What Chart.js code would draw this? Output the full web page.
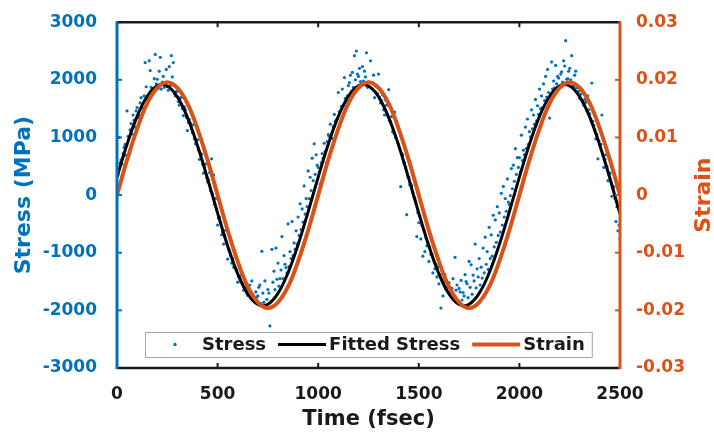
<!DOCTYPE html>
<html>
<head>
<meta charset="utf-8">
<title>Stress / Strain vs Time</title>
<script src="https://cdn.jsdelivr.net/npm/chart.js@4.4.1/dist/chart.umd.min.js"></script>
<style>
  html, body { margin: 0; padding: 0; background: #fff; }
  #wrap { width: 714px; height: 435px; }
</style>
</head>
<body>
<div id="wrap"><canvas id="stressChart" width="714" height="435"></canvas></div>
<script>
// Ejes
const timeTicks = [0, 500, 1000, 1500, 2000, 2500];
const stressTicks = [-3000, -2000, -1000, 0, 1000, 2000, 3000];
const strainTicks = [-0.03, -0.02, -0.01, 0, 0.01, 0.02, 0.03];

// Curvas ajustadas (cada 50 fsec)
const timeFit = [
  0, 50, 100, 150, 200, 250, 300, 350, 400, 450,
  500, 550, 600, 650, 700, 750, 800, 850, 900, 950,
  1000, 1050, 1100, 1150, 1200, 1250, 1300, 1350, 1400, 1450,
  1500, 1550, 1600, 1650, 1700, 1750, 1800, 1850, 1900, 1950,
  2000, 2050, 2100, 2150, 2200, 2250, 2300, 2350, 2400, 2450,
  2500
];
const fittedStress = [
  312, 882, 1366, 1716, 1898, 1894, 1705, 1349, 861, 288,
  -312, -882, -1366, -1716, -1898, -1894, -1705, -1349, -861, -288,
  312, 882, 1366, 1716, 1898, 1894, 1705, 1349, 861, 288,
  -312, -882, -1366, -1716, -1898, -1894, -1705, -1349, -861, -288,
  312, 882, 1366, 1716, 1898, 1894, 1705, 1349, 861, 288,
  -330
];
const strain = [
  0, 0.0061, 0.0115, 0.0159, 0.0186, 0.0196, 0.0186, 0.0159, 0.0115, 0.0061,
  0, -0.0061, -0.0115, -0.0159, -0.0186, -0.0196, -0.0186, -0.0159, -0.0115, -0.0061,
  0, 0.0061, 0.0115, 0.0159, 0.0186, 0.0196, 0.0186, 0.0159, 0.0115, 0.0061,
  0, -0.0061, -0.0115, -0.0159, -0.0186, -0.0196, -0.0186, -0.0159, -0.0115, -0.0061,
  0, 0.0061, 0.0115, 0.0159, 0.0186, 0.0196, 0.0186, 0.0159, 0.0115, 0.0061,
  0
];

// Tensión medida, muestras en 0, 10, 20 ... fsec
const timeStress = [
  0, 10, 20, 30, 40, 50, 60, 70, 80, 90,
  100, 110, 120, 130, 140, 150, 160, 170, 180, 190,
  200, 210, 220, 230, 240, 250, 260, 270, 280, 290,
  300, 310, 320, 330, 340, 350, 360, 370, 380, 390,
  400, 410, 420, 430, 440, 450, 460, 470, 480, 490,
  500, 510, 520, 530, 540, 550, 560, 570, 580, 590,
  600, 610, 620, 630, 640, 650, 660, 670, 680, 690,
  700, 710, 720, 730, 740, 750, 760, 770, 780, 790,
  800, 810, 820, 830, 840, 850, 860, 870, 880, 890,
  900, 910, 920, 930, 940, 950, 960, 970, 980, 990,
  1000, 1010, 1020, 1030, 1040, 1050, 1060, 1070, 1080, 1090,
  1100, 1110, 1120, 1130, 1140, 1150, 1160, 1170, 1180, 1190,
  1200, 1210, 1220, 1230, 1240, 1250, 1260, 1270, 1280, 1290,
  1300, 1310, 1320, 1330, 1340, 1350, 1360, 1370, 1380, 1390,
  1400, 1410, 1420, 1430, 1440, 1450, 1460, 1470, 1480, 1490,
  1500, 1510, 1520, 1530, 1540, 1550, 1560, 1570, 1580, 1590,
  1600, 1610, 1620, 1630, 1640, 1650, 1660, 1670, 1680, 1690,
  1700, 1710, 1720, 1730, 1740, 1750, 1760, 1770, 1780, 1790,
  1800, 1810, 1820, 1830, 1840, 1850, 1860, 1870, 1880, 1890,
  1900, 1910, 1920, 1930, 1940, 1950, 1960, 1970, 1980, 1990,
  2000, 2010, 2020, 2030, 2040, 2050, 2060, 2070, 2080, 2090,
  2100, 2110, 2120, 2130, 2140, 2150, 2160, 2170, 2180, 2190,
  2200, 2210, 2220, 2230, 2240, 2250, 2260, 2270, 2280, 2290,
  2300, 2310, 2320, 2330, 2340, 2350, 2360, 2370, 2380, 2390,
  2400, 2410, 2420, 2430, 2440, 2450, 2460, 2470, 2480, 2490,
  2500
];
const stress = [
  420, 1000, 610, 720, 880, 1460, 700, 1240, 1390, 1180,
  1520, 1380, 1690, 1480, 2300, 1650, 2330, 1870, 1780, 2440,
  2010, 2150, 1840, 2060, 1930, 1880, 2230, 2420, 2300, 1720,
  1800, 1560, 1690, 1380, 1480, 1120, 1310, 1150, 1220, 890,
  960, 620, 710, 380, 540, 230, 390, 630, 350, -60,
  -520, -380, -690, -850, -610, -1110, -980, -1180, -1250, -1060,
  -1510, -1420, -1380, -1650, -1600, -1740, -1560, -1490, -1820, -1680,
  -1750, -1560, -975, -1860, -1920, -1640, -2270, -940, -1320, -920,
  -1180, -1450, -720, -1050, -1260, -500, -980, -460, -830, -620,
  -380, -150, -240, 160, -60, 420, 310, 640, 890, 700,
  480, 190, 720, 900, 560, 1050, 1230, 980, 1400, 1300,
  1780, 1250, 1840, 2040, 1620, 1900, 2080, 2130, 2420, 2500,
  2060, 1970, 2230, 2150, 2470, 1880, 2330, 1950, 1690, 1880,
  2100, 1600, 1740, 1390, 1560, 1830, 1270, 1100, 1440, 1270,
  880, 146, 700, 560, -340, 310, 190, 40, -60, -720,
  -480, -760, -1060, -980, -880, -1150, -1030, -1350, -1280, -1420,
  -1540, -1960, -1750, -1380, -1600, -1520, -1700, -1450, -1080, -1560,
  -1620, -1480, -1690, -1380, -1540, -1150, -1210, -1390, -850, -1280,
  -1100, -1250, -920, -730, -980, -560, -690, -350, -430, -200,
  -310, 30, 150, -60, 280, -160, 460, 520, 806, 650,
  650, 1040, 780, 1180, 1320, 1100, 1480, 1390, 1660, 1550,
  1840, 1720, 1930, 2060, 2180, 1336, 2310, 1980, 2250, 2060,
  1870, 2140, 2330, 2680, 2020, 2200, 2420, 1880, 2150, 1790,
  1680, 1840, 1560, 1610, 1720, 1410, 1945, 1210, 975, 630,
  1150, 1390, 480, 700, 250, 380, -20, 140, -460, -620,
  -750
];

// Tensión medida, muestras intermedias en 5, 15, 25 ... fsec
const timeStressMid = [
  5, 15, 25, 35, 45, 55, 65, 75, 85, 95,
  105, 115, 125, 135, 145, 155, 165, 175, 185, 195,
  205, 215, 225, 235, 245, 255, 265, 275, 285, 295,
  305, 315, 325, 335, 345, 355, 365, 375, 385, 395,
  405, 415, 425, 435, 445, 455, 465, 475, 485, 495,
  505, 515, 525, 535, 545, 555, 565, 575, 585, 595,
  605, 615, 625, 635, 645, 655, 665, 675, 685, 695,
  705, 715, 725, 735, 745, 755, 765, 775, 785, 795,
  805, 815, 825, 835, 845, 855, 865, 875, 885, 895,
  905, 915, 925, 935, 945, 955, 965, 975, 985, 995,
  1005, 1015, 1025, 1035, 1045, 1055, 1065, 1075, 1085, 1095,
  1105, 1115, 1125, 1135, 1145, 1155, 1165, 1175, 1185, 1195,
  1205, 1215, 1225, 1235, 1245, 1255, 1265, 1275, 1285, 1295,
  1305, 1315, 1325, 1335, 1345, 1355, 1365, 1375, 1385, 1395,
  1405, 1415, 1425, 1435, 1445, 1455, 1465, 1475, 1485, 1495,
  1505, 1515, 1525, 1535, 1545, 1555, 1565, 1575, 1585, 1595,
  1605, 1615, 1625, 1635, 1645, 1655, 1665, 1675, 1685, 1695,
  1705, 1715, 1725, 1735, 1745, 1755, 1765, 1775, 1785, 1795,
  1805, 1815, 1825, 1835, 1845, 1855, 1865, 1875, 1885, 1895,
  1905, 1915, 1925, 1935, 1945, 1955, 1965, 1975, 1985, 1995,
  2005, 2015, 2025, 2035, 2045, 2055, 2065, 2075, 2085, 2095,
  2105, 2115, 2125, 2135, 2145, 2155, 2165, 2175, 2185, 2195,
  2205, 2215, 2225, 2235, 2245, 2255, 2265, 2275, 2285, 2295,
  2305, 2315, 2325, 2335, 2345, 2355, 2365, 2375, 2385, 2395,
  2405, 2415, 2425, 2435, 2445, 2455, 2465, 2475, 2485, 2495
];
const stressMid = [
  350, 560, 540, 830, 690, 1020, 1130, 1060, 1300, 1460,
  1350, 1600, 1520, 1720, 1880, 1690, 2160, 1800, 2020, 1930,
  1850, 2390, 1960, 1870, 2180, 1820, 1900, 2050, 1760, 1800,
  1620, 1690, 1500, 1530, 1350, 1260, 1250, 1080, 980, 960,
  780, 730, 540, 480, 300, 260, 80, 20, -160, -240,
  -400, -470, -640, -700, -820, -940, -1050, -1100, -1260, -1300,
  -1420, -1500, -1540, -1620, -1700, -1650, -1790, -1720, -1830, -1770,
  -1600, -1880, -1700, -1490, -1810, -1700, -1850, -1510, -1640, -1460,
  -1580, -1300, -1450, -1200, -1350, -1240, -1100, -1050, -940, -850,
  -700, -600, -470, -330, -200, -60, 80, 250, 360, 520,
  400, 560, 640, 760, 930, 1020, 1060, 1190, 1280, 1330,
  1450, 1540, 1560, 1680, 1720, 1950, 1800, 1870, 2000, 2100,
  2200, 1900, 1980, 2050, 1870, 1960, 1850, 2080, 1790, 1760,
  1700, 1640, 1480, 1650, 1380, 1290, 1360, 1080, 1000, 920,
  810, 720, 560, 480, 330, 180, 160, -30, -120, -300,
  -360, -520, -600, -740, -820, -900, -1030, -1140, -1200, -1250,
  -1380, -1460, -1510, -1640, -1560, -1700, -1620, -1780, -1650, -1840,
  -1680, -1820, -1750, -1500, -1780, -1600, -1720, -1490, -1610, -1420,
  -1560, -1440, -1350, -1200, -1290, -1100, -1060, -900, -820, -700,
  -640, -520, -380, -280, -120, -10, 110, 240, 360, 480,
  400, 600, 700, 810, 880, 1010, 1150, 1230, 1290, 1400,
  1500, 1520, 1640, 1700, 1780, 1720, 1840, 1860, 1930, 2030,
  2100, 1960, 2240, 2010, 2150, 2000, 1890, 2080, 1860, 1800,
  1750, 1620, 1660, 1470, 1480, 1320, 1280, 1130, 1050, 940,
  880, 700, 620, 500, 360, 230, 150, -60, -200, -520
];

const BLUE = '#0072BD';
const ORANGE = '#D95319';
const DARK = '#1a1a1a';
const FONT = '"DejaVu Sans", "Liberation Sans", sans-serif';

// Marco estilo MATLAB: ejes de colores y marcas hacia dentro
const axesFrame = {
  id: 'axesFrame',
  afterDatasetsDraw(chart) {
    const { ctx, chartArea: a, scales } = chart;
    const tick = 5;
    ctx.save();
    ctx.lineCap = 'butt';

    ctx.lineWidth = 2;
    ctx.strokeStyle = DARK;
    timeTicks.forEach(v => {
      if (v === 0 || v === 2500) return;
      const px = scales.x.getPixelForValue(v);
      ctx.beginPath();
      ctx.moveTo(px, a.bottom); ctx.lineTo(px, a.bottom - tick);
      ctx.moveTo(px, a.top); ctx.lineTo(px, a.top + tick);
      ctx.stroke();
    });
    ctx.strokeStyle = BLUE;
    stressTicks.forEach(v => {
      const py = scales.y.getPixelForValue(v);
      ctx.beginPath(); ctx.moveTo(a.left, py); ctx.lineTo(a.left + tick, py); ctx.stroke();
    });
    ctx.strokeStyle = ORANGE;
    strainTicks.forEach(v => {
      const py = scales.y1.getPixelForValue(v);
      ctx.beginPath(); ctx.moveTo(a.right, py); ctx.lineTo(a.right - tick, py); ctx.stroke();
    });

    ctx.lineWidth = 2.5;
    ctx.strokeStyle = DARK;
    ctx.beginPath();
    ctx.moveTo(a.left, a.top); ctx.lineTo(a.right, a.top);
    ctx.moveTo(a.left, a.bottom); ctx.lineTo(a.right, a.bottom);
    ctx.stroke();

    ctx.lineWidth = 3;
    ctx.strokeStyle = BLUE;
    ctx.beginPath(); ctx.moveTo(a.left, a.top - 1); ctx.lineTo(a.left, a.bottom + 1); ctx.stroke();
    ctx.strokeStyle = ORANGE;
    ctx.beginPath(); ctx.moveTo(a.right, a.top - 1); ctx.lineTo(a.right, a.bottom + 1); ctx.stroke();
    ctx.restore();
  }
};

// Leyenda en una fila dentro del área del gráfico
const innerLegend = {
  id: 'innerLegend',
  afterDraw(chart) {
    const ctx = chart.ctx;
    const sets = chart.data.datasets;
    const boxLeft = 145, boxTop = 332, boxH = 25;
    const midY = boxTop + boxH / 2;
    ctx.save();
    ctx.font = 'bold 18px ' + FONT;
    ctx.textBaseline = 'middle';

    let x = boxLeft;
    const items = sets.map((ds, i) => {
      const mStart = x + (i === 0 ? 6 : 12);
      const mEnd = mStart + 48;
      const tx = mEnd + 3;
      x = tx + ctx.measureText(ds.label).width;
      return { ds, mStart, mEnd, tx };
    });
    const boxRight = x + 7;

    ctx.fillStyle = '#fff';
    ctx.fillRect(boxLeft, boxTop, boxRight - boxLeft, boxH);
    ctx.strokeStyle = '#a6a6a6';
    ctx.lineWidth = 1;
    ctx.strokeRect(boxLeft + 0.5, boxTop + 0.5, boxRight - boxLeft, boxH);

    items.forEach(it => {
      if (it.ds.showLine === false) {
        ctx.fillStyle = it.ds.backgroundColor;
        ctx.beginPath();
        ctx.arc((it.mStart + it.mEnd) / 2, midY, 1.7, 0, Math.PI * 2);
        ctx.fill();
      } else {
        ctx.strokeStyle = it.ds.borderColor;
        ctx.lineWidth = it.ds.borderWidth;
        ctx.beginPath(); ctx.moveTo(it.mStart, midY); ctx.lineTo(it.mEnd, midY); ctx.stroke();
      }
      ctx.fillStyle = DARK;
      ctx.fillText(it.ds.label, it.tx, midY + 1);
    });

    // Título del eje derecho (de abajo hacia arriba, como el izquierdo)
    const a = chart.chartArea;
    ctx.translate(704, (a.top + a.bottom) / 2);
    ctx.rotate(-Math.PI / 2);
    ctx.textAlign = 'center';
    ctx.font = 'bold 22px ' + FONT;
    ctx.fillStyle = ORANGE;
    ctx.fillText('Strain', 0, 0);
    ctx.restore();
  }
};

const stressPoints = timeStress.map((t, i) => ({ x: t, y: stress[i] }))
  .concat(timeStressMid.map((t, i) => ({ x: t, y: stressMid[i] })))
  .sort((p, q) => p.x - q.x);

const ctx = document.getElementById('stressChart').getContext('2d');
const stressChart = new Chart(ctx, {
  type: 'line',
  data: {
    datasets: [
      {
        label: 'Stress',
        type: 'scatter',
        data: stressPoints,
        yAxisID: 'y',
        showLine: false,
        backgroundColor: BLUE,
        borderColor: BLUE,
        pointRadius: 1.6,
        pointBorderWidth: 0,
        order: 3
      },
      {
        label: 'Fitted Stress',
        data: timeFit.map((t, i) => ({ x: t, y: fittedStress[i] })),
        yAxisID: 'y',
        borderColor: '#000',
        borderWidth: 3,
        pointRadius: 0,
        tension: 0.4,
        order: 2
      },
      {
        label: 'Strain',
        data: timeFit.map((t, i) => ({ x: t, y: strain[i] })),
        yAxisID: 'y1',
        borderColor: ORANGE,
        borderWidth: 4,
        pointRadius: 0,
        tension: 0.4,
        order: 1
      }
    ]
  },
  options: {
    responsive: false,
    animation: false,
    devicePixelRatio: 1,
    layout: { padding: { top: 19, left: 0, right: 0, bottom: 0 } },
    plugins: {
      legend: { display: false },
      tooltip: { enabled: false }
    },
    scales: {
      x: {
        type: 'linear',
        position: 'bottom',
        min: 0,
        max: 2500,
        afterBuildTicks: s => { s.ticks = timeTicks.map(v => ({ value: v })); },
        afterFit: s => { s.height = 67; },
        grid: { display: false },
        border: { display: false },
        ticks: {
          color: DARK,
          font: { family: FONT, size: 17, weight: 'bold' },
          padding: 8,
          maxRotation: 0,
          autoSkip: false,
          callback: v => String(v)
        },
        title: {
          display: true,
          text: 'Time (fsec)',
          color: DARK,
          font: { family: FONT, size: 21, weight: 'bold' },
          padding: { top: 0, bottom: 3 }
        }
      },
      y: {
        position: 'left',
        min: -3000,
        max: 3000,
        afterBuildTicks: s => { s.ticks = stressTicks.map(v => ({ value: v })); },
        afterFit: s => { s.width = 117; },
        grid: { display: false },
        border: { display: false },
        ticks: {
          color: BLUE,
          font: { family: FONT, size: 17, weight: 'bold' },
          padding: 12,
          callback: v => String(v)
        },
        title: {
          display: true,
          text: 'Stress (MPa)',
          color: BLUE,
          font: { family: FONT, size: 22, weight: 'bold' },
          padding: { top: 11, bottom: 0 }
        }
      },
      y1: {
        position: 'right',
        min: -0.03,
        max: 0.03,
        afterBuildTicks: s => { s.ticks = strainTicks.map(v => ({ value: v })); },
        afterFit: s => { s.width = 94; },
        grid: { display: false },
        border: { display: false },
        ticks: {
          color: ORANGE,
          font: { family: FONT, size: 17, weight: 'bold' },
          padding: 8,
          callback: v => (v === 0 ? '0' : v.toFixed(2))
        }
      }
    }
  },
  plugins: [axesFrame, innerLegend]
});
</script>
</body>
</html>
